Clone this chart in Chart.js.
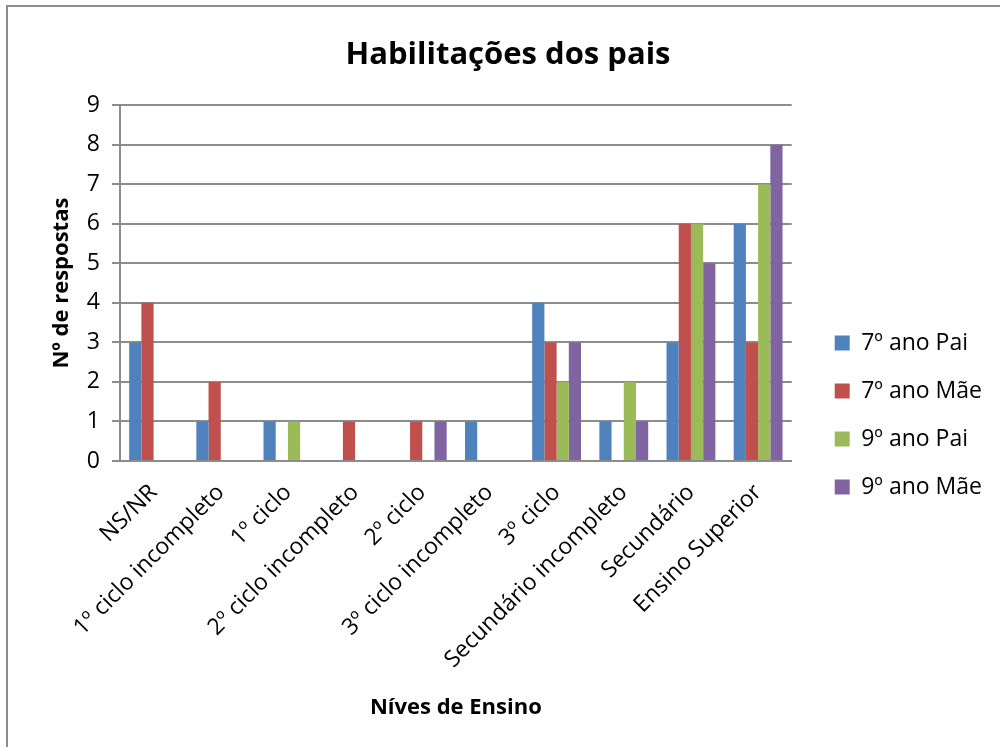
<!DOCTYPE html>
<html lang="pt">
<head>
    <meta charset="UTF-8">
    <title>Habilitações dos pais</title>
    <script src="https://cdn.jsdelivr.net/npm/chart.js"></script>
    <style>
        html, body { margin: 0; padding: 0; background: #fff; }
        #wrap { position: relative; width: 1000px; height: 747px; overflow: hidden; }
        #frame { position: absolute; left: 6px; top: 5px; width: 1100px; height: 900px;
                 border-left: 2px solid #8c8c8c; border-top: 2px solid #8c8c8c; }
        #chart { position: absolute; left: 0; top: 0; }
    </style>
</head>
<body>
    <div id="wrap">
        <div id="frame"></div>
        <canvas id="chart" width="1000" height="747"></canvas>
    </div>

    <script>
        // categorias (eixo X)
        let niveis = ["NS/NR", "1º ciclo incompleto", "1º ciclo", "2º ciclo incompleto", "2º ciclo",
                      "3º ciclo incompleto", "3º ciclo", "Secundário incompleto", "Secundário", "Ensino Superior"];

        // respostas por série
        let pai7 = [3, 1, 1, 0, 0, 1, 4, 1, 3, 6];
        let mae7 = [4, 2, 0, 1, 1, 0, 3, 0, 6, 3];
        let pai9 = [0, 0, 1, 0, 0, 0, 2, 2, 6, 7];
        let mae9 = [0, 0, 0, 0, 1, 0, 3, 1, 5, 8];

        let yTicks = [0, 1, 2, 3, 4, 5, 6, 7, 8, 9];

        let font = "'Open Sans', 'DejaVu Sans', sans-serif";
        let gridColor = "#8c8c8c";

        let ctx = document.getElementById("chart").getContext("2d");

        function serie(label, data, color) {
            return {
                label: label,
                data: data,
                backgroundColor: color,
                borderWidth: 0,
                categoryPercentage: 0.727,
                barPercentage: 1.0,
                yAxisID: "y"
            };
        }

        let chart = new Chart(ctx, {
            type: "bar",
            data: {
                labels: niveis,
                datasets: [
                    serie("7º ano Pai", pai7, "#4f81bd"),
                    serie("7º ano Mãe", mae7, "#c0504d"),
                    serie("9º ano Pai", pai9, "#9bbb59"),
                    serie("9º ano Mãe", mae9, "#8064a2")
                ]
            },
            options: {
                responsive: false,
                animation: false,
                layout: { padding: { top: 10, left: 24, right: 8, bottom: 22 } },
                plugins: {
                    title: {
                        display: true,
                        text: "Habilitações dos pais",
                        color: "#000",
                        font: { family: font, size: 31, weight: "bold" },
                        padding: { top: 27, bottom: 31 }
                    },
                    legend: {
                        position: "right",
                        maxWidth: 300,
                        // título vazio só para baixar a legenda
                        title: { display: true, text: "", font: { size: 10, lineHeight: 1 }, padding: { top: 85, bottom: 0 } },
                        labels: {
                            color: "#000",
                            font: { family: font, size: 23 },
                            boxWidth: 15,
                            boxHeight: 15,
                            padding: 25
                        }
                    },
                    tooltip: { enabled: false }
                },
                scales: {
                    x: {
                        grid: { display: false },
                        border: { display: true, color: gridColor, width: 2 },
                        ticks: {
                            color: "#000",
                            font: { family: font, size: 23 },
                            maxRotation: 45,
                            minRotation: 45,
                            autoSkip: false,
                            padding: 10
                        },
                        title: {
                            display: true,
                            text: "Níves de Ensino",
                            color: "#000",
                            font: { family: font, size: 22, weight: "bold" }
                        },
                        afterFit: function (scale) { scale.height = 264; }
                    },
                    y: {
                        min: 0,
                        max: 9,
                        afterBuildTicks: function (scale) {
                            scale.ticks = yTicks.map(function (v) { return { value: v }; });
                        },
                        grid: { color: gridColor, lineWidth: 2, tickLength: 8 },
                        border: { display: true, color: gridColor, width: 2 },
                        ticks: {
                            color: "#000",
                            font: { family: font, size: 23 },
                            padding: 12
                        },
                        title: {
                            display: true,
                            text: "Nº de respostas",
                            color: "#000",
                            font: { family: font, size: 22, weight: "bold" },
                            padding: { top: 25, bottom: 4 }
                        },
                        afterFit: function (scale) { scale.width = 96; }
                    },
                    // eixo vazio só para afastar a legenda da área do gráfico
                    espaco: {
                        position: "right",
                        grid: { display: false, drawOnChartArea: false },
                        border: { display: false },
                        ticks: { display: false },
                        afterFit: function (scale) { scale.width = 18; }
                    }
                }
            }
        });
    </script>
</body>
</html>
